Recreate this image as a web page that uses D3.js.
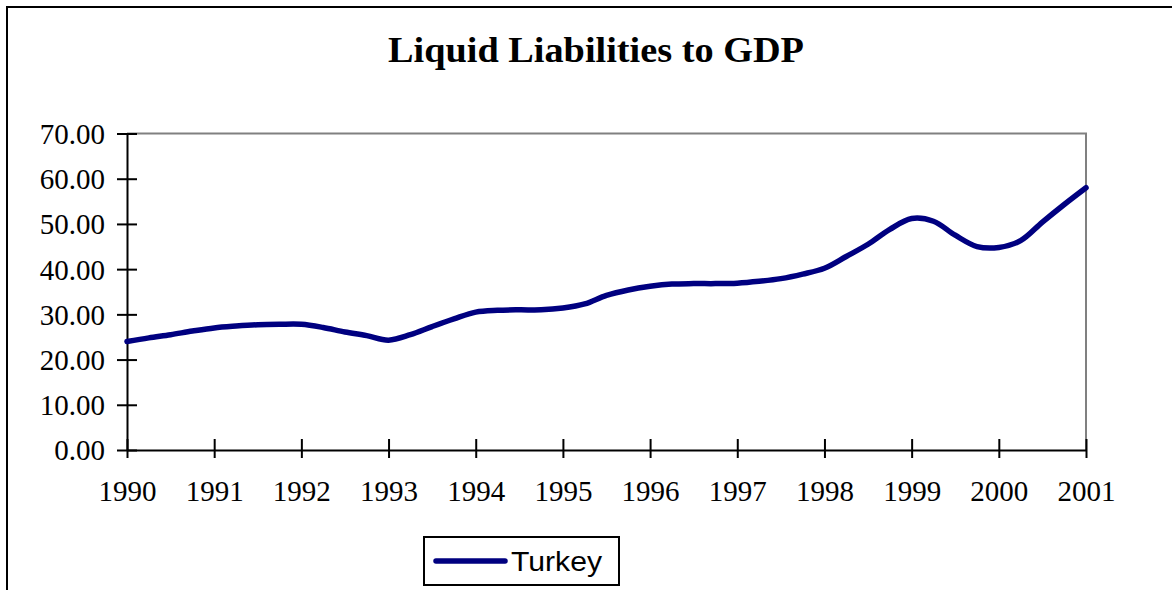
<!DOCTYPE html>
<html>
<head>
<meta charset="utf-8">
<script src="https://cdn.jsdelivr.net/npm/d3@7/dist/d3.min.js"></script>
<style>
  html, body { margin: 0; padding: 0; background: #fff; }
  svg { display: block; }
</style>
</head>
<body>
<script>
// Liquid liabilities to GDP, Turkey, quarterly observations 1990Q1 - 2001Q1
const seriesName = "Turkey";
const startYear = 1990;
const yearTicks = [1990, 1991, 1992, 1993, 1994, 1995, 1996, 1997, 1998, 1999, 2000, 2001];
const valueTicks = [0, 10, 20, 30, 40, 50, 60, 70];
const liquidity = [
  24.0, 24.8, 25.5, 26.3,   // 1990
  27.0, 27.4, 27.7, 27.8,   // 1991
  27.8, 27.1, 26.1, 25.3,   // 1992
  24.3, 25.5, 27.3, 29.0,   // 1993
  30.5, 30.9, 31.0, 31.0,   // 1994
  31.4, 32.3, 34.2, 35.4,   // 1995
  36.2, 36.7, 36.8, 36.8,   // 1996
  36.9, 37.3, 37.9, 38.9,   // 1997
  40.2, 42.8, 45.5, 48.8,   // 1998
  51.2, 50.6, 47.5, 45.0,   // 1999
  44.8, 46.3, 50.4, 54.3,   // 2000
  58.0                      // 2001
];

const W = 1172, H = 590;
const plot = { left: 127, right: 1086, top: 133.5, bottom: 450 };
const serif = "'Liberation Serif', 'Times New Roman', serif";

const svg = d3.select("body").append("svg")
  .attr("width", W).attr("height", H);

// chart frame
svg.append("rect")
  .attr("x", 7).attr("y", 7)
  .attr("width", W + 20).attr("height", H + 20)
  .attr("fill", "#fff").attr("stroke", "#000").attr("stroke-width", 2);

// title
svg.append("text")
  .attr("x", 596).attr("y", 62)
  .attr("text-anchor", "middle")
  .attr("font-family", serif)
  .attr("font-weight", "bold")
  .attr("font-size", 35)
  .attr("textLength", 416)
  .attr("lengthAdjust", "spacingAndGlyphs")
  .text("Liquid Liabilities to GDP");

const x = d3.scaleLinear()
  .domain([yearTicks[0], yearTicks[yearTicks.length - 1]])
  .range([plot.left, plot.right]);
const y = d3.scaleLinear()
  .domain([valueTicks[0], valueTicks[valueTicks.length - 1]])
  .range([plot.bottom, plot.top]);

// plot area top and right edges
svg.append("path")
  .attr("d", `M${plot.left},${plot.top}H${plot.right}V${plot.bottom}`)
  .attr("fill", "none").attr("stroke", "#808080").attr("stroke-width", 2);

// value axis
const yAxis = svg.append("g")
  .attr("transform", `translate(${plot.left},0)`)
  .call(d3.axisLeft(y).tickValues(valueTicks).tickFormat(d3.format(".2f"))
    .tickSizeInner(10).tickSizeOuter(0).tickPadding(12));
yAxis.select(".domain").attr("stroke", "#000").attr("stroke-width", 2);
yAxis.selectAll(".tick line").attr("x1", -10).attr("x2", 10)
  .attr("stroke", "#000").attr("stroke-width", 2);
yAxis.selectAll(".tick text")
  .attr("font-family", serif).attr("font-size", 29).attr("fill", "#000")
  .attr("dy", "0.34em");

// year axis
const xAxis = svg.append("g")
  .attr("transform", `translate(0,${plot.bottom})`)
  .call(d3.axisBottom(x).tickValues(yearTicks).tickFormat(d3.format("d"))
    .tickSizeInner(8).tickSizeOuter(0).tickPadding(22));
xAxis.select(".domain").attr("stroke", "#000").attr("stroke-width", 2);
xAxis.selectAll(".tick line").attr("y1", -11).attr("y2", 8)
  .attr("stroke", "#000").attr("stroke-width", 2);
xAxis.selectAll(".tick text")
  .attr("font-family", serif).attr("font-size", 29).attr("fill", "#000")
  .attr("dy", "0.71em");

// series line
const line = d3.line()
  .x((d, i) => x(startYear + i / 4))
  .y(d => y(d))
  .curve(d3.curveCatmullRom.alpha(0.5));
svg.append("path")
  .datum(liquidity)
  .attr("d", line)
  .attr("fill", "none")
  .attr("stroke", "#000080")
  .attr("stroke-width", 5.5)
  .attr("stroke-linejoin", "round")
  .attr("stroke-linecap", "round");

// legend
const legend = svg.append("g");
legend.append("rect")
  .attr("x", 424).attr("y", 537).attr("width", 195).attr("height", 48)
  .attr("fill", "#fff").attr("stroke", "#000").attr("stroke-width", 2);
legend.append("line")
  .attr("x1", 436).attr("x2", 505).attr("y1", 561).attr("y2", 561)
  .attr("stroke", "#000080").attr("stroke-width", 5.5).attr("stroke-linecap", "round");
legend.append("text")
  .attr("x", 511).attr("y", 571)
  .attr("font-family", "'Liberation Sans', Arial, sans-serif")
  .attr("font-size", 28)
  .attr("textLength", 91)
  .attr("lengthAdjust", "spacingAndGlyphs")
  .text(seriesName);
</script>
</body>
</html>
